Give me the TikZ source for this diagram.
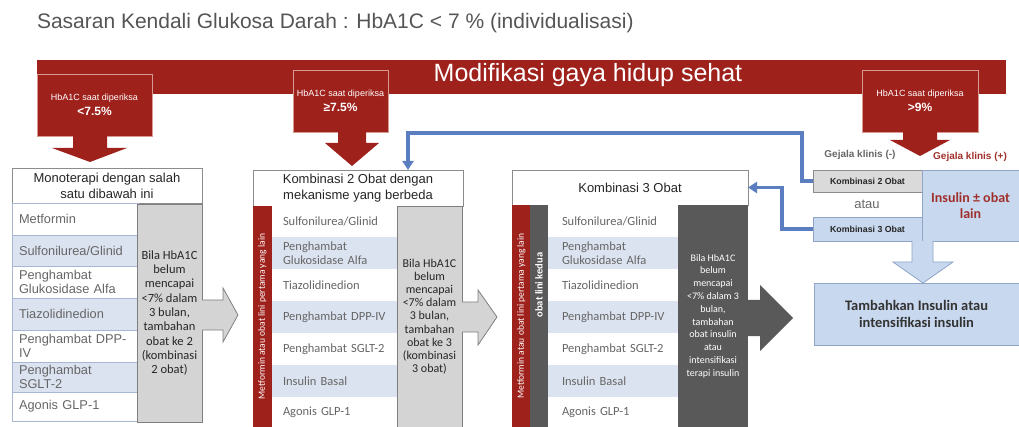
\documentclass[tikz,border=0pt]{standalone}
\usepackage{fontspec}
\setmainfont{Liberation Sans}
\newfontfamily\carl{Carlito}
\usetikzlibrary{arrows.meta}
\definecolor{dred}{HTML}{9E211C}
\definecolor{pinkl}{HTML}{D79A92}
\definecolor{txtg}{HTML}{666666}
\definecolor{ttl}{HTML}{555555}
\definecolor{rowb}{HTML}{DCE3F0}
\definecolor{rowl}{HTML}{A7B6D3}
\definecolor{gfill}{HTML}{D4D4D4}
\definecolor{gline}{HTML}{7F7F7F}
\definecolor{dgray}{HTML}{595959}
\definecolor{connc}{HTML}{5B7EC0}
\definecolor{lbox}{HTML}{C8D8EE}
\definecolor{lline}{HTML}{8EA5C8}
\definecolor{hline}{HTML}{8C8C8C}
\definecolor{redtxt}{HTML}{A0302B}
\newcommand\fsz[2]{\fontsize{#1}{#2}\selectfont}
\begin{document}
\begin{tikzpicture}[x=1pt,y=-1pt,
  every node/.style={inner sep=0pt,outer sep=0pt},
  callout/.style={fill=dred,draw=pinkl,line width=0.7pt,anchor=north west,align=center,text=white,minimum height=62pt},
  hdr/.style={draw=hline,fill=white,line width=0.8pt,anchor=north west,align=center,font=\fsz{13}{16},text=black!85},
  rowA/.style={anchor=north west,draw=rowl,line width=0.6pt,text width=112pt,inner xsep=7pt,align=left,font=\fsz{12.8}{14.5},text=txtg},
  rowB/.style={anchor=north west,text width=112pt,inner xsep=11pt,align=left,font=\carl\fsz{12.5}{14},text=txtg},
  rowC/.style={anchor=north west,text width=112pt,inner xsep=14pt,align=left,font=\carl\fsz{12.5}{14},text=txtg},
  gbox/.style={anchor=north west,fill=gfill,draw=gline,line width=0.8pt,align=center,text=black!85},
  strip/.style={anchor=north west,fill=dred,minimum width=19pt},
  conn/.style={draw=connc,line width=3.5pt,-{Triangle[width=11pt,length=9pt]}},
  small/.style={anchor=north west,line width=0.7pt,minimum width=109pt,font=\bfseries\fsz{8.8}{10},text=black!85},
  lb/.style={fill=lbox,draw=lline,line width=0.8pt}
]
\path[use as bounding box] (0,0) rectangle (1019,427);

% title
\node[anchor=west,font=\fsz{21}{24},text=ttl] (title) at (37,23) {Sasaran Kendali Glukosa Darah : HbA1C < 7 \% (individualisasi)};

% lifestyle band
\node[anchor=north west,fill=dred,minimum width=969pt,minimum height=34pt] (band) at (37,60) {};
\node[font=\fsz{25}{28},text=white] (bandtxt) at (588,75) {Modifikasi gaya hidup sehat};

% callouts
\node[callout,minimum width=115pt] (c1) at (37,74) {{\fsz{9}{11}HbA1C saat diperiksa}\\[3pt]{\bfseries\fsz{12}{13}<7.5\%}};
\node[callout,minimum width=95pt] (c2) at (293,70) {{\fsz{9}{11}HbA1C saat diperiksa}\\[3pt]{\bfseries\fsz{12}{13}≥7.5\%}};
\node[callout,minimum width=116pt] (c3) at (862,70) {{\fsz{9}{11}HbA1C saat diperiksa}\\[3pt]{\bfseries\fsz{12}{13}>9\%}};

% red block arrows
\fill[dred] (73,135.5) -- (73,148) -- (52,148) -- (90,162) -- (127,148) -- (107,148) -- (107,135.5) -- cycle;
\fill[dred] (338,131.5) -- (338,143) -- (325,143) -- (352,166) -- (379,143) -- (366,143) -- (366,131.5) -- cycle;
\fill[dred] (903,131.5) -- (903,140) -- (890,140) -- (920,156) -- (950,140) -- (937,140) -- (937,131.5) -- cycle;

% ---------- box 1 ----------
\node[hdr,minimum width=190pt,minimum height=35pt] (h1) at (12,168) {Monoterapi dengan salah\\satu dibawah ini};
\foreach \n/\y/\h/\f/\t in {1/203/32/white/Metformin,2/235/31/rowb/{Sulfonilurea/Glinid},3/266/32/white/{Penghambat\\Glukosidase Alfa},4/298/32/rowb/Tiazolidinedion,5/330/32/white/{Penghambat DPP-\\IV},6/362/30/rowb/{Penghambat\\SGLT-2},7/392/29/white/{Agonis GLP-1}}
  \node[rowA,fill=\f,minimum height=\h pt] (ra\n) at (12,\y) {\t};
\node[gbox,minimum width=65pt,minimum height=218pt,font=\carl\fsz{12.5}{14.3}] (g1) at (137,204) {Bila HbA1C\\belum\\mencapai\\<7\% dalam\\3 bulan,\\tambahan\\obat ke 2\\(kombinasi\\2 obat)};
\fill[gfill] (202,300) -- (223,300) -- (223,288) -- (238,315) -- (223,342) -- (223,330) -- (202,330) -- cycle;
\draw[gline,line width=0.8pt] (202,300) -- (223,300) -- (223,288) -- (238,315) -- (223,342) -- (223,330) -- (202,330);

% ---------- box 2 ----------
\node[hdr,minimum width=210pt,minimum height=36pt] (h2) at (253,170) {Kombinasi 2 Obat dengan\\mekanisme yang berbeda};
\foreach \n/\y/\h/\f/\t in {1/206/31/white/{Sulfonilurea/Glinid},2/237/32/rowb/{Penghambat\\Glukosidase Alfa},3/269/32/white/Tiazolidinedion,4/301/32/rowb/{Penghambat DPP-IV},5/333/32/white/{Penghambat SGLT-2},6/365/32/rowb/{Insulin Basal},7/397/30/white/{Agonis GLP-1}}
  \node[rowB,fill=\f,minimum height=\h pt] (rb\n) at (272,\y) {\t};
\node[strip,minimum height=221pt] (s2) at (253,206) {};
\node[rotate=90,text=white,font=\carl\fsz{9.5}{10}] (s2t) at (s2.center) {Metformin atau obat lini pertama yang lain};
\node[gbox,minimum width=65pt,minimum height=221pt,font=\carl\fsz{12}{13.2}] (g2) at (397,206) {Bila HbA1C\\belum\\mencapai\\<7\% dalam\\3 bulan,\\tambahan\\obat ke 3\\(kombinasi\\3 obat)};
\fill[gfill] (462,302) -- (478,302) -- (478,290) -- (497,317) -- (478,345) -- (478,332) -- (462,332) -- cycle;
\draw[gline,line width=0.8pt] (462,302) -- (478,302) -- (478,290) -- (497,317) -- (478,345) -- (478,332) -- (462,332);

% ---------- box 3 ----------
\node[hdr,minimum width=236pt,minimum height=35pt] (h3) at (512,170) {Kombinasi 3 Obat};
\foreach \n/\y/\h/\f/\t in {1/205/32/white/{Sulfonilurea/Glinid},2/237/32/rowb/{Penghambat\\Glukosidase Alfa},3/269/32/white/Tiazolidinedion,4/301/32/rowb/{Penghambat DPP-IV},5/333/32/white/{Penghambat SGLT-2},6/365/32/rowb/{Insulin Basal},7/397/30/white/{Agonis GLP-1}}
  \node[rowC,fill=\f,minimum height=\h pt] (rc\n) at (548,\y) {\t};
\node[strip,minimum height=222pt] (s3) at (512,205) {};
\node[rotate=90,text=white,font=\carl\fsz{9.5}{10}] (s3t) at (s3.center) {Metformin atau obat lini pertama yang lain};
\node[anchor=north west,fill=dgray,minimum width=18pt,minimum height=222pt] (d3) at (530,205) {};
\node[rotate=90,text=white,font=\carl\bfseries\fsz{10.5}{12}] (d3t) at (539,285) {obat lini kedua};
\node[anchor=north west,fill=dgray,minimum width=70pt,minimum height=222pt,align=center,text=white,font=\carl\fsz{10}{12.8}] (g3) at (678,205) {Bila HbA1C\\belum\\mencapai\\<7\% dalam 3\\bulan,\\tambahan\\obat insulin\\atau\\intensifikasi\\terapi insulin};
\fill[dgray] (748,300) -- (760,300) -- (760,285) -- (793,318) -- (760,351) -- (760,336) -- (748,336) -- cycle;

% ---------- right side ----------
\node[font=\bfseries\fsz{10}{12},text=txtg] (gneg) at (860,155) {Gejala klinis (-)};
\node[font=\bfseries\fsz{10}{12},text=redtxt] (gpos) at (970,157) {Gejala klinis (+)};
\node[small,fill=gfill!85!white,draw=hline,minimum height=22pt] (k2) at (813,170) {Kombinasi 2 Obat};
\node[font=\fsz{13}{15},text=txtg] (atau) at (867,204) {atau};
\node[small,lb,minimum height=24pt] (k3) at (813,217) {Kombinasi 3 Obat};
\node[lb,anchor=north west,minimum width=97pt,minimum height=71pt,align=center,font=\carl\bfseries\fsz{14}{15.5},text=redtxt] (ins) at (922,170) {Insulin ± obat\\lain};
\fill[lbox] (912,241) -- (912,262) -- (893,262) -- (923,283) -- (953,262) -- (933,262) -- (933,241) -- cycle;
\draw[lline,line width=0.8pt] (912,241) -- (912,262) -- (893,262) -- (923,283) -- (953,262) -- (933,262) -- (933,241);
\node[lb,anchor=north west,minimum width=205pt,minimum height=62pt,align=center,font=\carl\bfseries\fsz{14.5}{17},text=black!80] (tamb) at (814,283) {Tambahkan Insulin atau\\intensifikasi insulin};

% ---------- blue connectors ----------
\coordinate (xa) at (802,0);
\coordinate (xb) at (408,0);
\coordinate (xc) at (782,0);
\draw[conn] (k2.west) -| (xa |- 0,133) -| (h2.north -| xb);
\draw[conn] (k3.west) -| (xc |- h3.east) -- (h3.east);
\end{tikzpicture}
\end{document}
